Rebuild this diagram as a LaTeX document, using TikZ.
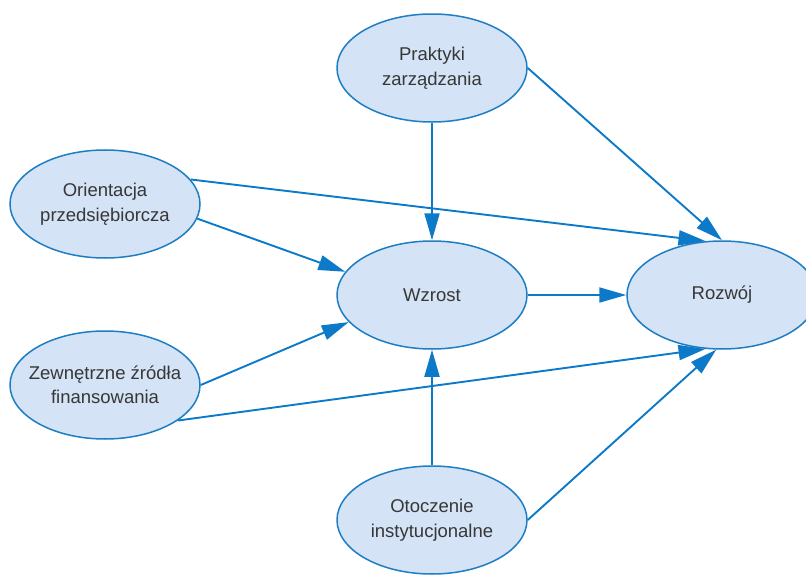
\documentclass[tikz,border=0pt]{standalone}
\usepackage{fontspec}
\setmainfont{Liberation Sans}
\usepackage{tikz}
\usetikzlibrary{shapes.geometric}
\usetikzlibrary{arrows.meta}
\tikzset{>={Triangle[width=15pt,length=27pt]}}
\definecolor{elfill}{RGB}{212,227,245}
\definecolor{eldraw}{RGB}{30,126,196}
\definecolor{arblue}{RGB}{12,122,200}
\definecolor{txtgray}{RGB}{55,55,55}

\begin{document}
\begin{tikzpicture}[
    x = 1pt, y = -1pt,
    factor/.style = {ellipse, draw=eldraw, fill=elfill, line width=1.5pt,
        minimum width=190pt, minimum height=108pt,
        inner xsep=-14pt, inner ysep=-10pt,
        align=center, text=txtgray, font=\fontsize{18.5}{24.5}\selectfont},
    link/.style = {->, draw=arblue, line width=1.9pt}
  ]
  \useasboundingbox (0,0) rectangle (806,575);
  \clip (0,0) rectangle (806,575);

  \node[factor] (prak) at (432,68) {Praktyki\\zarządzania};
  \node[factor] (orient) at (105,204) {Orientacja\\przedsiębiorcza};
  \node[factor] (wzrost) at (432,295) {Wzrost};
  \node[factor] (rozwoj) at (722,295) {Rozwój};
  \node[factor] (zewn) at (105,385) {Zewnętrzne źródła\\finansowania};
  \node[factor] (otocz) at (432,520) {Otoczenie\\instytucjonalne};

  \draw[link] (prak.south) -- (wzrost.north);
  \draw[link] (prak.east) -- (rozwoj.north);
  \draw[link] (orient.16) -- (rozwoj.107);
  \draw[link] (orient.-9) -- (wzrost.165);
  \draw[link] (wzrost.east) -- (rozwoj.west);
  \draw[link] (zewn.east) -- (wzrost.198);
  \draw[link] (zewn.-26) -- (rozwoj.253);
  \draw[link] (otocz.north) -- (wzrost.south);
  \draw[link] (otocz.east) -- (rozwoj.264);
\end{tikzpicture}
\end{document}
